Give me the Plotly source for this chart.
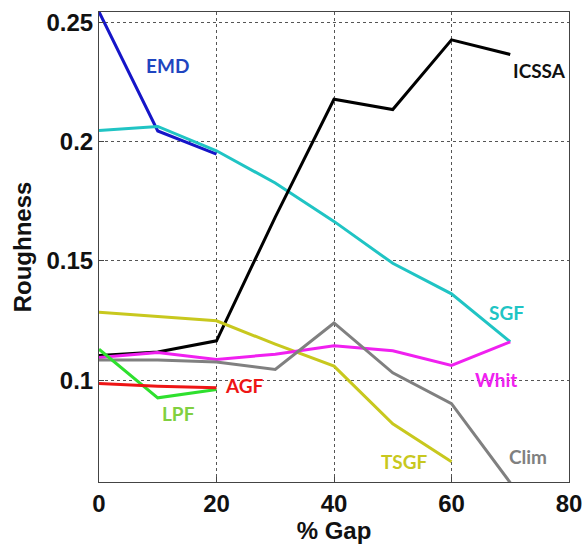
import plotly.graph_objects as go

gap = [0, 10, 20, 30, 40, 50, 60, 70]

emd = [0.2545, 0.2045, 0.1948]
sgf = [0.2047, 0.2064, 0.1962, 0.1827, 0.1666, 0.1490, 0.1362, 0.1161]
icssa = [0.1104, 0.1118, 0.1165, 0.1684, 0.2178, 0.2135, 0.2427, 0.2366]
tsgf = [0.1285, 0.1268, 0.1249, 0.1151, 0.1059, 0.0817, 0.0658]
whit = [0.1095, 0.1116, 0.1087, 0.1109, 0.1144, 0.1123, 0.1062, 0.1161]
clim = [0.1085, 0.1085, 0.1076, 0.1045, 0.1240, 0.1031, 0.0902, 0.0570]
lpf = [0.1130, 0.0926, 0.0961]
agf = [0.0986, 0.0975, 0.0968]

series = [
    ("EMD", emd, "#1515c8", "#1f45c0", 11.7, 0.2318),
    ("SGF", sgf, "#20c4c4", "#20c4c4", 69.4, 0.1285),
    ("ICSSA", icssa, "#000000", "#111111", 74.9, 0.2300),
    ("TSGF", tsgf, "#c8c81e", "#c8c81e", 52.0, 0.0658),
    ("Whit", whit, "#f020f0", "#f020f0", 67.6, 0.1003),
    ("Clim", clim, "#808080", "#808080", 73.0, 0.0680),
    ("LPF", lpf, "#2ee02e", "#80d040", 13.5, 0.0862),
    ("AGF", agf, "#ee1515", "#ee1515", 24.8, 0.0978),
]

fig = go.Figure()
for name, vals, color, lcolor, lx, ly in series:
    fig.add_trace(go.Scatter(x=gap[:len(vals)], y=vals, mode="lines", name=name,
                             line=dict(color=color, width=3), showlegend=False))
    fig.add_annotation(x=lx, y=ly, text=name, showarrow=False,
                       font=dict(family="Lato", size=19, color=lcolor, weight="bold"))

tfont = dict(family="Liberation Sans", size=24, color="#111", weight="bold")
axis_common = dict(showline=True, linecolor="#444", linewidth=1, mirror=True,
                   showgrid=True, gridcolor="#555", griddash="dot", gridwidth=1,
                   ticks="inside", ticklen=5, tickcolor="#444", zeroline=False,
                   automargin=False, tickfont=tfont)

fig.update_xaxes(range=[0, 80], tickvals=[0, 20, 40, 60, 80],
                 title=dict(text="% Gap", standoff=2, font=tfont),
                 **axis_common)
fig.update_yaxes(range=[0.0573, 0.2544], tickvals=[0.1, 0.15, 0.2, 0.25],
                 ticktext=["0.1", "0.15", "0.2", "0.25"],
                 title=dict(text="Roughness", standoff=8, font=tfont),
                 **axis_common)

fig.update_layout(width=585, height=546, margin=dict(l=99, r=16, t=12, b=64),
                  plot_bgcolor="white", paper_bgcolor="white")

fig.write_html("out.html", config={"displayModeBar": False},
               post_script="document.body.style.margin='0px';document.body.style.overflow='hidden';")
